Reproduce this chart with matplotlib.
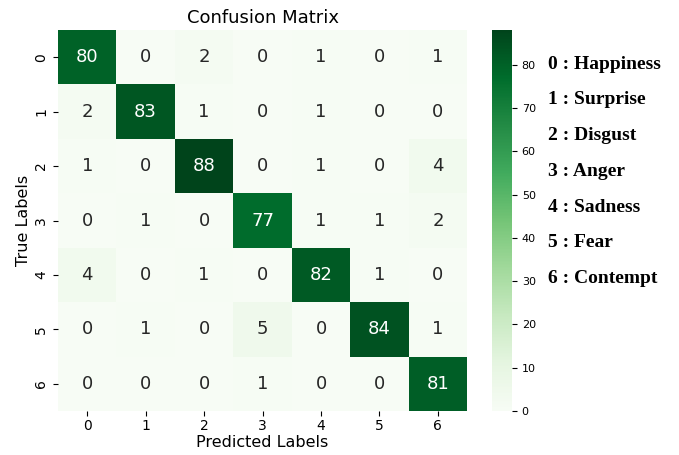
import numpy as np
import matplotlib
matplotlib.use('Agg')
import matplotlib.pyplot as plt
import seaborn as sns

labels = ['0', '1', '2', '3', '4', '5', '6']
emotions = ['Happiness', 'Surprise', 'Disgust', 'Anger', 'Sadness', 'Fear', 'Contempt']
cm = np.array([
    [80, 0, 2, 0, 1, 0, 1],
    [2, 83, 1, 0, 1, 0, 0],
    [1, 0, 88, 0, 1, 0, 4],
    [0, 1, 0, 77, 1, 1, 2],
    [4, 0, 1, 0, 82, 1, 0],
    [0, 1, 0, 5, 0, 84, 1],
    [0, 0, 0, 1, 0, 0, 81],
])

fig = plt.figure(figsize=(6.79, 4.55), dpi=100)
ax = fig.add_axes([0.0854, 0.0967, 0.6026, 0.8373])
cax = fig.add_axes([0.7246, 0.0967, 0.0294, 0.8373])

sns.heatmap(cm, annot=True, fmt='d', cmap='Greens', ax=ax, cbar_ax=cax,
            xticklabels=labels, yticklabels=labels,
            annot_kws={'fontsize': 13})
ax.set_title('Confusion Matrix', fontsize=13, pad=5)
ax.set_xlabel('Predicted Labels', fontsize=11.5, labelpad=2)
ax.set_ylabel('True Labels', fontsize=11.5, labelpad=2)
ax.tick_params(labelsize=10)
ax.tick_params(axis='x', pad=2)
cax.tick_params(labelsize=8)

# class legend on the right
for i, name in enumerate(emotions):
    fig.text(0.807, 0.859 - i * 0.0785, f'{labels[i]} : {name}',
             family='Liberation Serif', fontweight='bold', fontsize=14,
             va='center', ha='left')

fig.savefig('out.png', dpi=100)
